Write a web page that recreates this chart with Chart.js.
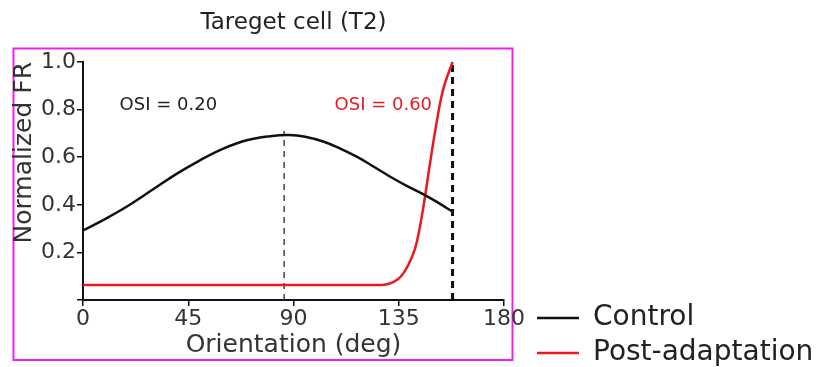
<!DOCTYPE html>
<html>
<head>
<meta charset="utf-8">
<script src="https://cdn.jsdelivr.net/npm/chart.js@4"></script>
<style>
  html, body { margin: 0; padding: 0; background: #fff; }
  #wrap { width: 827px; height: 367px; }
</style>
</head>
<body>
<div id="wrap"><canvas id="tuningChart"></canvas></div>
<script>
// tuning curves (orientation in deg, normalized firing rate)
const controlDeg = [0, 10, 20, 30, 40, 50, 60, 70, 80, 88, 95, 103, 110, 117, 124, 131, 138, 146, 152, 158];
const controlFR = [0.292, 0.343, 0.40, 0.465, 0.53, 0.587, 0.636, 0.671, 0.688, 0.693, 0.686, 0.665, 0.636, 0.602, 0.562, 0.52, 0.482, 0.442, 0.408, 0.371];

const postDeg = [0, 30, 60, 90, 120, 127, 130, 133, 136, 139, 142, 144, 146, 148, 151, 154, 158];
const postFR = [0.063, 0.063, 0.063, 0.063, 0.063, 0.063, 0.066, 0.077, 0.10, 0.145, 0.217, 0.305, 0.42, 0.55, 0.735, 0.885, 1.0];

// preferred orientation markers (dashed lines)
const prefDeg = [86, 158];
const prefTop = [0.71, 1.0];

const seriesLabels = ['Control', 'Post-adaptation'];
const osiText = ['OSI = 0.20', 'OSI = 0.60'];
const xTicks = [0, 45, 90, 135, 180];
const yTicks = [0, 0.2, 0.4, 0.6, 0.8, 1.0];

const FONT = "'DejaVu Sans', sans-serif";

const toPoints = (xs, ys) => xs.map((x, i) => ({ x: x, y: ys[i] }));

// magenta frame around the panel
const framePlugin = {
    id: 'frame',
    beforeDraw(chart) {
        const { ctx, chartArea: a } = chart;
        ctx.save();
        ctx.strokeStyle = '#ee22ee';
        ctx.lineWidth = 2;
        ctx.strokeRect(a.left - 69.5, a.top - 13.5, (a.right + 8.5) - (a.left - 69.5), (a.bottom + 60) - (a.top - 13.5));
        ctx.restore();
    }
};

// OSI annotations
const osiPlugin = {
    id: 'osi',
    afterDatasetsDraw(chart) {
        const { ctx, scales: { x, y } } = chart;
        ctx.save();
        ctx.font = '18px ' + FONT;
        ctx.textAlign = 'center';
        ctx.textBaseline = 'middle';
        ctx.fillStyle = '#222';
        ctx.fillText(osiText[0], x.getPixelForValue(36.5), y.getPixelForValue(0.82));
        ctx.fillStyle = '#e8191f';
        ctx.fillText(osiText[1], x.getPixelForValue(128.4), y.getPixelForValue(0.82));
        ctx.restore();
    }
};

// move the legend below-right, outside the frame
const legendPlace = {
    id: 'legendPlace',
    afterLayout(chart) {
        const lg = chart.legend;
        if (!lg) return;
        const w = lg.width, h = lg.height;
        lg.left = chart.chartArea.right + 26;
        lg.right = lg.left + w;
        lg.top = chart.chartArea.bottom - 3;
        lg.bottom = lg.top + h;
    }
};

new Chart(document.getElementById('tuningChart'), {
    type: 'line',
    data: {
        datasets: [
            {
                label: seriesLabels[0],
                data: toPoints(controlDeg, controlFR),
                borderColor: '#111',
                backgroundColor: '#111',
                borderWidth: 2.5,
                pointRadius: 0,
                tension: 0.4,
                clip: 4
            },
            {
                label: seriesLabels[1],
                data: toPoints(postDeg, postFR),
                borderColor: '#e8191f',
                backgroundColor: '#e8191f',
                borderWidth: 2.5,
                pointRadius: 0,
                tension: 0.4,
                clip: 4
            },
            {
                label: 'pref control',
                data: [{ x: prefDeg[0], y: 0 }, { x: prefDeg[0], y: prefTop[0] }],
                borderColor: '#444',
                borderWidth: 1.5,
                borderDash: [6, 5],
                pointRadius: 0,
                clip: 4
            },
            {
                label: 'pref post',
                data: [{ x: prefDeg[1], y: 0 }, { x: prefDeg[1], y: prefTop[1] }],
                borderColor: '#111',
                borderWidth: 3,
                borderDash: [7, 5],
                pointRadius: 0,
                clip: 4
            }
        ]
    },
    options: {
        responsive: true,
        maintainAspectRatio: false,
        animation: false,
        layout: { padding: { left: 0, right: 33, top: 0, bottom: 0 } },
        plugins: {
            title: {
                display: true,
                text: 'Tareget cell (T2)',
                fullSize: false,
                color: '#222',
                font: { family: FONT, size: 23, weight: 'normal', lineHeight: 1.2 },
                padding: { top: 9, bottom: 25.4 }
            },
            legend: {
                position: 'right',
                align: 'start',
                maxWidth: 290,
                labels: {
                    font: { family: FONT, size: 28 },
                    color: '#222',
                    usePointStyle: true,
                    pointStyle: 'line',
                    pointStyleWidth: 42,
                    padding: 7,
                    filter: item => item.datasetIndex < 2
                }
            },
            tooltip: { enabled: false }
        },
        scales: {
            x: {
                type: 'linear',
                min: 0,
                max: 180,
                afterBuildTicks: s => { s.ticks = xTicks.map(v => ({ value: v })); },
                afterFit: s => { s.height = 67; },
                border: { display: true, color: '#111', width: 2 },
                grid: { drawOnChartArea: false, drawTicks: true, tickLength: 6, color: '#111', lineWidth: 1.5 },
                ticks: {
                    color: '#333',
                    padding: 2,
                    maxRotation: 0,
                    font: { family: FONT, size: 22, lineHeight: 1 }
                },
                title: {
                    display: true,
                    text: 'Orientation (deg)',
                    color: '#333',
                    font: { family: FONT, size: 25, lineHeight: 1 },
                    padding: { top: 3, bottom: 9.5 }
                }
            },
            y: {
                min: 0,
                max: 1,
                afterBuildTicks: s => { s.ticks = yTicks.map(v => ({ value: v })); },
                afterFit: s => { s.width = 83; },
                border: { display: true, color: '#111', width: 2 },
                grid: { drawOnChartArea: false, drawTicks: true, tickLength: 6, color: '#111', lineWidth: 1.5 },
                ticks: {
                    color: '#333',
                    padding: 1,
                    font: { family: FONT, size: 22, lineHeight: 1 },
                    callback: v => (v === 0 ? '' : v.toFixed(1))
                },
                title: {
                    display: true,
                    text: 'Normalized FR',
                    align: 'end',
                    color: '#333',
                    font: { family: FONT, size: 25, lineHeight: 1 },
                    padding: { top: 12, bottom: 0 }
                }
            }
        }
    },
    plugins: [framePlugin, osiPlugin, legendPlace]
});
</script>
</body>
</html>
